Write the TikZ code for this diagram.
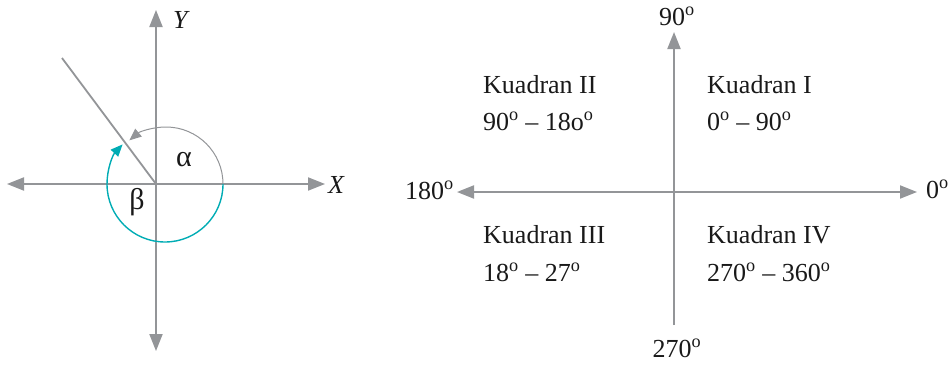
\documentclass[tikz,border=0pt]{standalone}
\usepackage{fontspec}
\setmainfont{Liberation Serif}
\usetikzlibrary{arrows.meta}
\definecolor{axisgray}{RGB}{147,149,152}
\definecolor{tealarc}{RGB}{0,172,180}
\begin{document}
\begin{tikzpicture}[x=1pt,y=1pt,
  axisline/.style={draw=axisgray,line width=2pt},
  axtip/.style={-{Triangle[length=17pt,width=13pt]}},
  bothtip/.style={{Triangle[length=17pt,width=13pt]}-{Triangle[length=17pt,width=13pt]}},
  lbl/.style={font=\fontsize{26}{30}\selectfont,inner sep=0pt,anchor=base west,text=black!90},
  glbl/.style={font=\fontsize{30}{34}\selectfont,inner sep=0pt,text=black!90},
  deg/.style={lbl,anchor=base}]
\useasboundingbox (0,0) rectangle (949,-364);
% ---------- left diagram ----------
\coordinate (O) at (156,-184);
\coordinate (Yt) at (156,-10);
\coordinate (Yb) at (156,-351);
\coordinate (Xl) at (7,-184);
\coordinate (Xr) at (325,-184);
\coordinate (T) at (62,-58);
\coordinate (A0) at (223,-184);
\draw[axisline,bothtip] (Yb) -- (Yt);
\draw[axisline,bothtip] (Xl) -- (Xr);
\draw[draw=axisgray,line width=1.8pt] (O) -- (T);
\draw[draw=axisgray,line width=1pt,-{Triangle[length=12pt,width=10pt]}]
  (A0) arc[start angle=0,end angle=130,radius=57pt];
\draw[draw=tealarc,line width=1.4pt,-{Triangle[length=12pt,width=10pt]}]
  (A0) arc[start angle=0,end angle=-223,radius=58pt];
\node[lbl,font=\fontsize{26}{30}\selectfont\itshape] (ylab) at (173,-28) {Y};
\node[lbl,font=\fontsize{26}{30}\selectfont\itshape] (xlab) at (328,-193) {X};
\node[glbl] (alpha) at (184,-160) {α};
\node[glbl] (beta) at (137,-202) {β};
% ---------- right diagram ----------
\coordinate (O2) at (674,-192);
\coordinate (Vt) at (674,-32);
\coordinate (Vb) at (674,-325);
\coordinate (Hl) at (457,-192);
\coordinate (Hr) at (917,-192);
\draw[axisline,axtip] (Vb) -- (Vt);
\draw[axisline,bothtip] (Hl) -- (Hr);
\node[deg] (d90) at (677,-25) {90\textsuperscript{o}};
\node[deg] (d270) at (677,-357) {270\textsuperscript{o}};
\node[lbl] (d0) at (926,-198) {0\textsuperscript{o}};
\node[lbl] (d180) at (405,-199) {180\textsuperscript{o}};
\node[lbl] (q2) at (483,-93) {Kuadran II};
\node[lbl] (q2r) at (483,-130) {90\textsuperscript{o} – 18o\textsuperscript{o}};
\node[lbl] (q1) at (707,-93) {Kuadran I};
\node[lbl] (q1r) at (707,-130) {0\textsuperscript{o} – 90\textsuperscript{o}};
\node[lbl] (q3) at (483,-243) {Kuadran III};
\node[lbl] (q3r) at (483,-281) {18\textsuperscript{o} – 27\textsuperscript{o}};
\node[lbl] (q4) at (707,-243) {Kuadran IV};
\node[lbl] (q4r) at (707,-281) {270\textsuperscript{o} – 360\textsuperscript{o}};
\end{tikzpicture}
\end{document}
